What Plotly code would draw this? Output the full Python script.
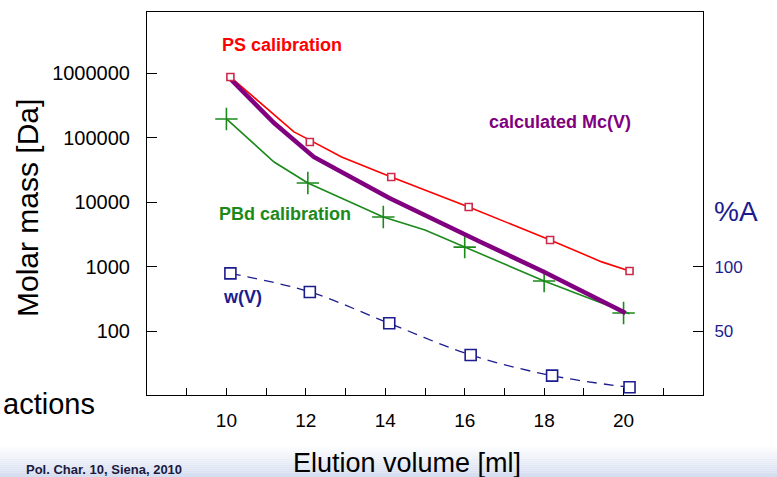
import plotly.graph_objects as go

# ---------------- data ----------------
# PS calibration (red)
ps_line_x = [10.1, 11.7, 12.1, 12.9, 14.15, 16.1, 18.15, 19.45, 20.15]
ps_line_y = [867000, 122000, 91000, 50000, 24400, 8360, 2580, 1180, 851]
ps_pts_x = [10.1, 12.1, 14.15, 16.1, 18.15, 20.15]
ps_pts_y = [867000, 85000, 24400, 8360, 2580, 851]

# PBd calibration (green)
pbd_line_x = [10.0, 11.2, 12.05, 13.95, 15.0, 16.0, 18.0, 20.15]
pbd_line_y = [194000, 41700, 19700, 5850, 3680, 2000, 596, 185]
pbd_pts_x = [10.0, 12.05, 13.95, 16.0, 18.0, 20.0]
pbd_pts_y = [194000, 19700, 5850, 2000, 596, 190]

# calculated Mc(V) (purple)
mc_x = [10.1, 11.2, 12.2, 14.1, 16.4, 18.0, 20.05]
mc_y = [807000, 168000, 50000, 11500, 2400, 823, 190]

# w(V) in %A (navy, right axis)
w_x = [10.1, 12.1, 14.1, 16.15, 18.2, 20.15]
w_y = [95, 80.5, 56, 31.3, 15.1, 6.0]

x_ticks = list(range(9, 22))
x_labels = ["10", "12", "14", "16", "18", "20"]
y_ticks = [100, 1000, 10000, 100000, 1000000]
y_labels = ["100", "1000", "10000", "100000", "1000000"]
y2_ticks = [50, 100]
y2_labels = ["50", "100"]

# ---------------- layout geometry ----------------
W, H = 777, 477
L, R, T, B = 147, 703, 12, 395


def px(x):
    return (x - L) / (R - L)


def py(y):
    return (B - y) / (B - T)


RED = "#ff0000"
RED_M = "#cc2a4a"
GREEN = "#1b8a1b"
PURPLE = "#800080"
NAVY = "#1c1c8e"
NARROW = "Liberation Sans Narrow, Arial Narrow, Liberation Sans, Arial"
SANS = "Liberation Sans, Arial, sans-serif"

fig = go.Figure()

fig.add_trace(go.Scatter(x=w_x, y=w_y, yaxis="y2", mode="lines",
                         line=dict(color=NAVY, width=1.3, dash="10px,7px",
                                   shape="spline", smoothing=1.0),
                         hoverinfo="skip"))
fig.add_trace(go.Scatter(x=w_x, y=w_y, yaxis="y2", mode="markers",
                         marker=dict(symbol="square", size=11, color="white",
                                     line=dict(color=NAVY, width=1.6))))
fig.add_trace(go.Scatter(x=ps_line_x, y=ps_line_y, mode="lines",
                         line=dict(color=RED, width=1.6)))
fig.add_trace(go.Scatter(x=pbd_line_x, y=pbd_line_y, mode="lines",
                         line=dict(color=GREEN, width=1.6)))
fig.add_trace(go.Scatter(x=pbd_pts_x, y=pbd_pts_y, mode="markers",
                         marker=dict(symbol="cross-thin-open", size=16, color=GREEN,
                                     line=dict(color=GREEN, width=1.6))))
fig.add_trace(go.Scatter(x=mc_x, y=mc_y, mode="lines",
                         line=dict(color=PURPLE, width=4.5)))
fig.add_trace(go.Scatter(x=ps_pts_x, y=ps_pts_y, mode="markers",
                         marker=dict(symbol="square", size=7, color="white",
                                     line=dict(color=RED_M, width=1.6))))

fig.update_layout(
    width=W, height=H,
    margin=dict(l=L, r=W - R, t=T, b=H - B),
    paper_bgcolor="white", plot_bgcolor="white",
    showlegend=False,
    font=dict(family=SANS, color="black"),
    xaxis=dict(range=[8.0, 22.0], tickvals=x_ticks,
               ticktext=[x_labels[(v - 10) // 2] if (v % 2 == 0 and 10 <= v <= 20) else "" for v in x_ticks],
               ticks="inside", ticklen=7, tickcolor="black", tickwidth=1,
               showline=True, linecolor="black", linewidth=1, mirror=True,
               showgrid=False, zeroline=False,
               tickfont=dict(family=NARROW, size=19, color="black"),
               ticklabelstandoff=8),
    yaxis=dict(type="log", range=[1.008, 6.946], tickvals=y_ticks, ticktext=y_labels,
               ticks="inside", ticklen=10, tickcolor="black", tickwidth=1,
               showline=True, linecolor="black", linewidth=1,
               showgrid=False, zeroline=False,
               tickfont=dict(family=NARROW, size=20, color="black"),
               ticklabelstandoff=12),
    yaxis2=dict(overlaying="y", side="right", range=[0, 299.2],
                tickvals=y2_ticks, ticktext=y2_labels,
                ticks="inside", ticklen=10, tickcolor="black", tickwidth=1,
                showline=True, linecolor="black", linewidth=1,
                showgrid=False, zeroline=False,
                tickfont=dict(family=SANS, size=17, color=NAVY),
                ticklabelstandoff=7),
)

# bottom gradient band of the slide
n = 15
top, bot = 446, 477
for i in range(n):
    y0 = top + (bot - top) * i / n
    y1 = top + (bot - top) * (i + 1) / n
    f = (i + 0.5) / n
    r = int(255 - f * (255 - 212))
    g = int(255 - f * (255 - 220))
    b = int(255 - f * (255 - 240))
    fig.add_shape(type="rect", xref="paper", yref="paper",
                  x0=px(0), x1=px(W), y0=py(y1), y1=py(y0),
                  fillcolor=f"rgb({r},{g},{b})", line=dict(width=0), layer="below")

ann = [
    dict(text="<b>PS calibration</b>", x=282, y=45, color=RED, size=18),
    dict(text="<b>calculated Mc(V)</b>", x=560, y=122, color=PURPLE, size=18),
    dict(text="<b>PBd calibration</b>", x=285, y=214, color=GREEN, size=18),
    dict(text="<b>w(V)</b>", x=242, y=297, color=NAVY, size=18),
    dict(text="%A", x=736, y=212, color=NAVY, size=28),
    dict(text="Elution volume [ml]", x=407, y=463, color="black", size=27),
]
for a in ann:
    fig.add_annotation(text=a["text"], x=px(a["x"]), y=py(a["y"]), xref="paper", yref="paper",
                       xanchor="center", yanchor="middle", showarrow=False,
                       font=dict(family=SANS, size=a["size"], color=a["color"]))

fig.add_annotation(text="Molar mass [Da]", x=px(27), y=py(208), xref="paper", yref="paper",
                   xanchor="center", yanchor="middle", showarrow=False, textangle=-90,
                   font=dict(family=SANS, size=30, color="black"))
fig.add_annotation(text="actions", x=px(97), y=py(404), xref="paper", yref="paper",
                   xanchor="right", yanchor="middle", showarrow=False,
                   font=dict(family=SANS, size=29, color="black"))
fig.add_annotation(text="<b>Pol. Char. 10, Siena, 2010</b>", x=px(24), y=py(469), xref="paper", yref="paper",
                   xanchor="left", yanchor="middle", showarrow=False,
                   font=dict(family=SANS, size=13, color="#1a1a40"))

fig.write_html("out.html")
